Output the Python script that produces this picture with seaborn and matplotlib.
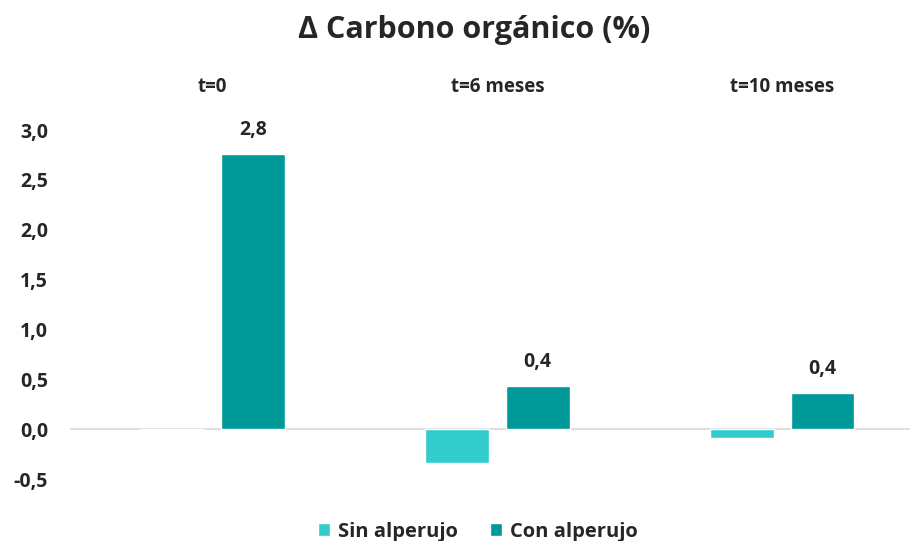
import pandas as pd
import numpy as np
import matplotlib
matplotlib.use('Agg')
import matplotlib.pyplot as plt
import seaborn as sns

# data
periodos = ['t=0', 't=6 meses', 't=10 meses']
sin_alperujo = [0.0, -0.34, -0.09]
con_alperujo = [2.76, 0.43, 0.36]
series = ['Sin alperujo', 'Con alperujo']
colores = ['#33CCCC', '#009999']

df = pd.DataFrame({
    'periodo': periodos * 2,
    'serie': [series[0]] * 3 + [series[1]] * 3,
    'valor': sin_alperujo + con_alperujo,
})

sns.set_style('white')
plt.rcParams['font.family'] = ['Open Sans', 'DejaVu Sans']

fig = plt.figure(figsize=(9.12, 5.41), dpi=100)
ax = fig.add_axes([0.077, 0.1146, 0.921, 0.645])

sns.barplot(data=df, x='periodo', y='valor', hue='serie', palette=colores,
            width=0.568, gap=0.21, ax=ax, legend=True, saturation=1)

ax.set_ylim(-0.5, 3.0)
ax.set_xlim(-0.5, 2.45)
ticks = np.arange(-0.5, 3.01, 0.5)
ax.set_yticks(ticks)
ax.set_yticklabels([f'{v:.1f}'.replace('.', ',') for v in ticks],
                   fontsize=14, fontweight='bold', color='#262626')
ax.tick_params(axis='y', length=0, pad=16)

ax.xaxis.tick_top()
ax.set_xticks(range(len(periodos)))
ax.set_xticklabels(periodos, fontsize=13.5, fontweight='bold', color='#262626')
ax.tick_params(axis='x', length=0, pad=24)
ax.set_xlabel('')
ax.set_ylabel('')

for s in ax.spines.values():
    s.set_visible(False)
ax.axhline(0, color='#D9D9D9', lw=1.2, zorder=0)

# labels on the "Con alperujo" bars
for i, v in enumerate(con_alperujo):
    bar = ax.containers[1][i]
    x = bar.get_x() + bar.get_width() / 2
    ax.text(x, v + 0.14, f'{v:.1f}'.replace('.', ','), ha='center', va='bottom',
            fontsize=14, fontweight='bold', color='#262626', clip_on=False)

fig.suptitle('Δ Carbono orgánico (%)', x=0.52, y=0.972, fontsize=22,
             fontweight='bold', color='#262626')

leg = ax.legend(loc='lower center', bbox_to_anchor=(0.485, -0.232), ncol=2,
                frameon=False, handlelength=0.6, handleheight=0.6,
                columnspacing=1.6, handletextpad=0.4,
                prop={'size': 14.5, 'weight': 'bold'})
for t in leg.get_texts():
    t.set_color('#262626')

fig.savefig('out.png', dpi=100)
